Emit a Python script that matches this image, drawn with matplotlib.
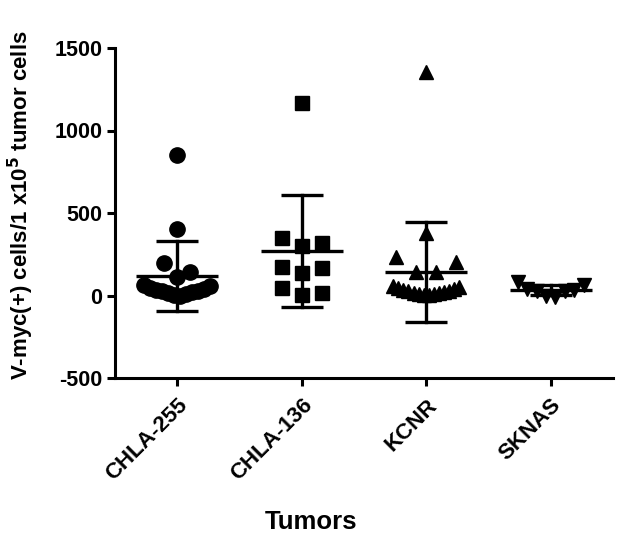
import numpy as np
import matplotlib
matplotlib.use("Agg")
import matplotlib.pyplot as plt

# ---- data ----
categories = ["CHLA-255", "CHLA-136", "KCNR", "SKNAS"]
chla255 = [850, 403, 197, 142, 112, 0, 5, 10, 15, 20, 25, 30, 35, 40, 45, 55, 65]
chla136 = [1166, 348, 318, 300, 173, 167, 136, 45, 15, 3]
kcnr = [1355, 380, 233, 203, 142, 142, 2, 5, 8, 10, 14, 18, 22, 26, 30, 35, 40, 45, 52, 60]
sknas = [64, 82, 30, 35, 25, 40, -10, 0]
series = [chla255, chla136, kcnr, sknas]
markers = ["o", "s", "^", "v"]
msizes = [11, 10, 10.5, 10.5]
row_spacing_px = [13, 20, 20, 20]
yticks = [-500, 0, 500, 1000, 1500]
ylabel = "V-myc(+) cells/1 x10$^{\\mathbf{5}}$ tumor cells"
xlabel = "Tumors"

W, H, DPI = 622, 541, 100
ax_left, ax_right, ax_top, ax_bottom = 115, 613, 48, 378
ymin, ymax = -500, 1500
xmin, xmax = -0.5, 3.5

plt.rcParams['font.family'] = ['Liberation Sans', 'DejaVu Sans']
plt.rcParams['font.weight'] = 'bold'
plt.rcParams['mathtext.default'] = 'bf'
plt.rcParams['axes.unicode_minus'] = False

fig = plt.figure(figsize=(W / DPI, H / DPI), dpi=DPI)
ax = fig.add_axes([ax_left / W, 1 - ax_bottom / H,
                   (ax_right - ax_left) / W, (ax_bottom - ax_top) / H])

px_per_y = (ax_bottom - ax_top) / (ymax - ymin)
px_per_x = (ax_right - ax_left) / (xmax - xmin)


def row_layout(values, spacing, row_h=16.0, half_width=33.0):
    """GraphPad-like scatter layout: bin into rows, spread each row."""
    vals = np.asarray(values, float)
    order = np.argsort(vals, kind="stable")
    rows = []
    cur = []
    start = None
    for i in order:
        y = vals[i] * px_per_y
        if start is None or y - start > row_h:
            if cur:
                rows.append(cur)
            cur = [i]
            start = y
        else:
            cur.append(i)
    if cur:
        rows.append(cur)
    offs = np.zeros(len(vals))
    for r in rows:
        n = len(r)
        if n == 1:
            continue
        s = min(spacing, 2 * half_width / (n - 1))
        if n % 2 == 1:
            slots = [0.0]
            k = 1
            while len(slots) < n:
                slots += [k * s, -k * s]
                k += 1
        else:
            slots = []
            k = 0
            while len(slots) < n:
                slots += [(k + 0.5) * s, -(k + 0.5) * s]
                k += 1
        for idx, sl in zip(r, slots[:n]):
            offs[idx] = sl
    return offs


lw = 2.4
for i, vals in enumerate(series):
    vals = np.asarray(vals, float)
    offs = row_layout(vals, row_spacing_px[i]) / px_per_x
    ax.plot(i + offs, vals, linestyle="none", marker=markers[i],
            markersize=msizes[i], color="black", zorder=3)
    m = vals.mean()
    sd = vals.std(ddof=1)
    ax.plot([i - 0.33, i + 0.33], [m, m], color="black", lw=lw, zorder=4,
            solid_capstyle="butt")
    ax.plot([i, i], [m - sd, m + sd], color="black", lw=lw, zorder=4)
    for yy in (m - sd, m + sd):
        ax.plot([i - 0.17, i + 0.17], [yy, yy], color="black", lw=lw,
                zorder=4, solid_capstyle="butt")

ax.set_xlim(xmin, xmax)
ax.set_ylim(ymin, ymax)
ax.set_yticks(yticks)
ax.set_xticks(range(len(categories)))
ax.set_xticklabels(categories, rotation=45, ha="right", rotation_mode="anchor",
                   fontsize=16, fontweight="bold")
for t in ax.get_yticklabels():
    t.set_fontsize(15.5)
    t.set_fontweight("bold")
ax.spines["top"].set_visible(False)
ax.spines["right"].set_visible(False)
ax.spines["left"].set_linewidth(2.2)
ax.spines["bottom"].set_linewidth(2.2)
ax.tick_params(axis="both", width=2.2, length=6, direction="out")
ax.tick_params(axis="x", pad=6)
ax.tick_params(axis="y", pad=3)

ax.set_xlabel(xlabel, fontsize=18.5, fontweight="bold")
ax.xaxis.set_label_coords(0.5, (H - 510) / H, transform=fig.transFigure)
ax.set_ylabel(ylabel, fontsize=16, fontweight="bold")
ax.yaxis.set_label_coords(36 / W, (H - 205) / H, transform=fig.transFigure)

fig.savefig("out.png", dpi=DPI)
